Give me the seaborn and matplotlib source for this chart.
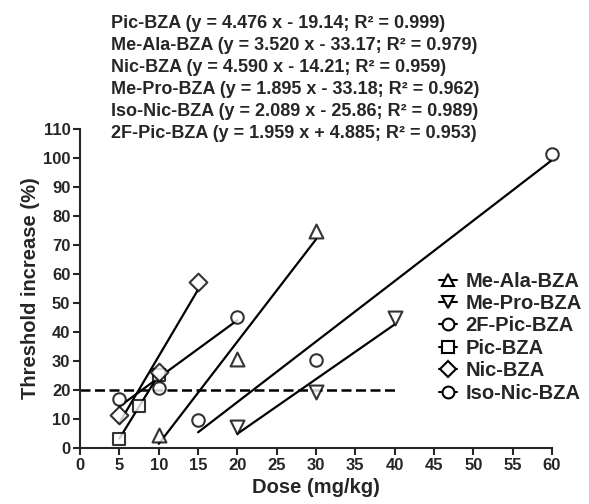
import numpy as np
import pandas as pd
import matplotlib
matplotlib.use("Agg")
import matplotlib.pyplot as plt
from matplotlib.lines import Line2D
import seaborn as sns

# data
compounds = ["Me-Ala-BZA", "Me-Pro-BZA", "2F-Pic-BZA", "Pic-BZA", "Nic-BZA", "Iso-Nic-BZA"]
markers = ["^", "v", "o", "s", "D", "o"]
dose_me_ala = [10, 20, 30]
resp_me_ala = [4.5, 30.6, 75.0]
dose_me_pro = [20, 30, 40]
resp_me_pro = [7.1, 19.4, 44.8]
dose_2f_pic = [5, 10, 20]
resp_2f_pic = [16.8, 20.6, 45.3]
dose_pic = [5, 7.5, 10]
resp_pic = [3.2, 14.5, 25.2]
dose_nic = [5, 10, 15]
resp_nic = [11.4, 26.3, 57.3]
dose_iso_nic = [15, 30, 60]
resp_iso_nic = [9.7, 30.3, 101.4]

threshold = 20
threshold_end = 40

equations = [
    "Pic-BZA (y = 4.476 x - 19.14; R² = 0.999)",
    "Me-Ala-BZA (y = 3.520 x - 33.17; R² = 0.979)",
    "Nic-BZA (y = 4.590 x - 14.21; R² = 0.959)",
    "Me-Pro-BZA (y = 1.895 x - 33.18; R² = 0.962)",
    "Iso-Nic-BZA (y = 2.089 x - 25.86; R² = 0.989)",
    "2F-Pic-BZA (y = 1.959 x + 4.885; R² = 0.953)",
]

doses = [dose_me_ala, dose_me_pro, dose_2f_pic, dose_pic, dose_nic, dose_iso_nic]
resps = [resp_me_ala, resp_me_pro, resp_2f_pic, resp_pic, resp_nic, resp_iso_nic]
msizes = {"^": 10, "v": 10, "o": 9, "s": 9, "D": 9}

sns.set_style("ticks")
plt.rcParams["font.family"] = ["Liberation Sans", "DejaVu Sans"]
plt.rcParams["font.weight"] = "bold"

fig = plt.figure(figsize=(5.89, 5.04), dpi=100)
ax = fig.add_axes([0.136, 0.111, 0.801, 0.633])

for name, m, xs, ys in zip(compounds, markers, doses, resps):
    df = pd.DataFrame({"dose": xs, "resp": ys})
    ms = msizes[m]
    sns.regplot(data=df, x="dose", y="resp", ax=ax, ci=None, truncate=True,
                color="black", marker=m,
                scatter_kws=dict(s=ms ** 2, facecolors="white", edgecolors="black",
                                 linewidths=1.5, zorder=3, clip_on=False),
                line_kws=dict(lw=1.6, zorder=2))

# 20 % threshold line
ax.hlines(threshold, 0, threshold_end, colors="black", lw=1.8,
          linestyles=(0, (4, 1.8)), zorder=1)

ax.set_xlim(0, 60)
ax.set_ylim(0, 110)
ax.set_xticks(np.arange(0, 61, 5))
ax.set_yticks(np.arange(0, 111, 10))
ax.tick_params(direction="out", length=5, width=1.5, labelsize=12, pad=2)
for lab in ax.get_xticklabels() + ax.get_yticklabels():
    lab.set_fontweight("bold")
for s in ["top", "right"]:
    ax.spines[s].set_visible(False)
for s in ["left", "bottom"]:
    ax.spines[s].set_linewidth(1.5)
ax.set_xlabel("Dose (mg/kg)", fontsize=14.5, fontweight="bold", labelpad=4)
ax.set_ylabel("Threshold increase (%)", fontsize=14.5, fontweight="bold", labelpad=2)

handles = [Line2D([0], [0], color="black", lw=1.5, marker=m, markersize=8.5,
                  markerfacecolor="white", markeredgecolor="black", markeredgewidth=1.5)
           for m in markers]
ax.legend(handles, compounds, loc="upper left", bbox_to_anchor=(0.761, 0.553),
          frameon=False, handlelength=0.9, handletextpad=0.4, labelspacing=0.17,
          prop=dict(size=14.5, weight="bold"), borderaxespad=0, borderpad=0)

fig.text(0.188, 0.970, "\n".join(equations), ha="left", va="top",
         fontsize=13, fontweight="bold", linespacing=1.38)

fig.savefig("out.png", dpi=100)
